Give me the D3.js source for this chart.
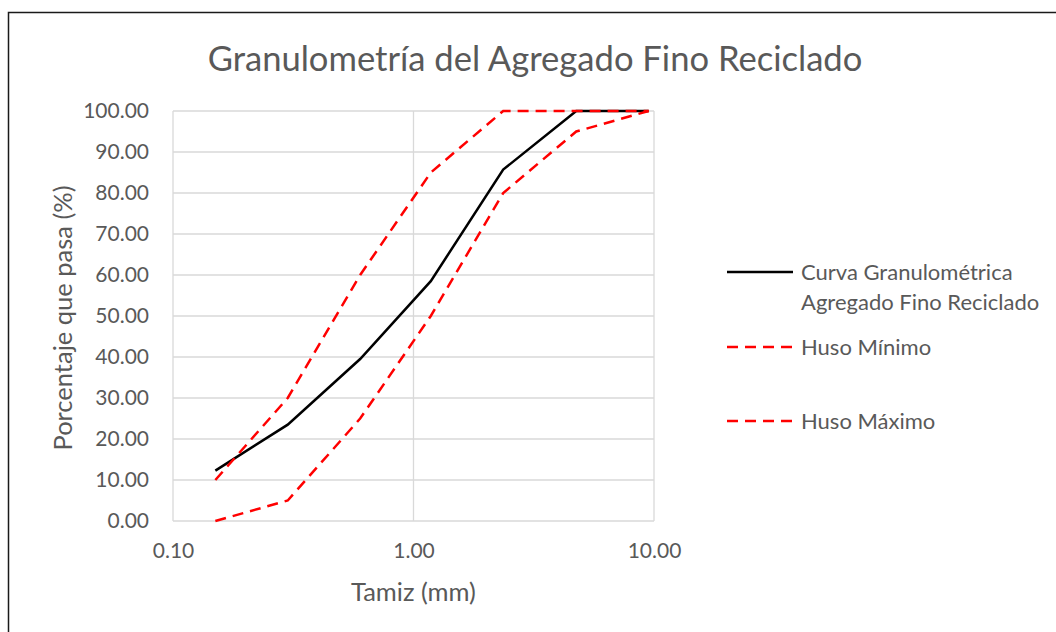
<!DOCTYPE html>
<html>
<head>
<meta charset="utf-8">
<script src="https://cdn.jsdelivr.net/npm/d3@7"></script>
<style>
  body { margin: 0; background: #fff; }
  text { font-family: Lato, "Open Sans", sans-serif; fill: #595959; }
</style>
</head>
<body>
<div id="chart"></div>
<script>
// sieve openings (mm)
var sieves = [0.15, 0.3, 0.6, 1.18, 2.36, 4.75, 9.5];
var curva = [12.3, 23.5, 39.5, 58.5, 85.7, 100, 100];
var husoMin = [0, 5, 25, 50, 80, 95, 100];
var husoMax = [10, 30, 60, 85, 100, 100, 100];
var xTicks = [0.1, 1, 10];
var yTicks = [0, 10, 20, 30, 40, 50, 60, 70, 80, 90, 100];

var W = 1056, H = 632;
var margin = {top: 111, right: 402, bottom: 111, left: 173};
var width = W - margin.left - margin.right;
var height = H - margin.top - margin.bottom;

var svg = d3.select("#chart").append("svg")
  .attr("width", W)
  .attr("height", H);

// outer chart border
svg.append("rect")
  .attr("x", 8.5).attr("y", 12.5)
  .attr("width", W + 20).attr("height", H + 20)
  .attr("fill", "none").attr("stroke", "#1a1a1a").attr("stroke-width", 1.5);

svg.append("text")
  .attr("x", 535).attr("y", 71)
  .attr("text-anchor", "middle")
  .attr("font-size", 34.6)
  .text("Granulometría del Agregado Fino Reciclado");

var g = svg.append("g")
  .attr("transform", "translate(" + margin.left + "," + margin.top + ")");

var x = d3.scaleLog().domain([0.1, 10]).range([0, width]);
var y = d3.scaleLinear().domain([0, 100]).range([height, 0]);

// gridlines
g.selectAll(".hgrid").data(yTicks).enter().append("line")
  .attr("x1", 0).attr("x2", width)
  .attr("y1", function(d) { return y(d); })
  .attr("y2", function(d) { return y(d); })
  .attr("stroke", "#d9d9d9").attr("stroke-width", 1.3);

g.selectAll(".vgrid").data(xTicks).enter().append("line")
  .attr("x1", function(d) { return x(d); })
  .attr("x2", function(d) { return x(d); })
  .attr("y1", 0).attr("y2", height)
  .attr("stroke", "#d9d9d9").attr("stroke-width", 1.3);

// axes
var yAxis = g.append("g")
  .call(d3.axisLeft(y).tickValues(yTicks).tickSize(0).tickPadding(24)
    .tickFormat(d3.format(".2f")));
yAxis.select(".domain").remove();
yAxis.selectAll("text").attr("font-size", 21).attr("fill", "#595959")
  .attr("font-family", "Lato, sans-serif");

var xAxis = g.append("g")
  .attr("transform", "translate(0," + height + ")")
  .call(d3.axisBottom(x).tickValues(xTicks).tickSize(0).tickPadding(22)
    .tickFormat(d3.format(".2f")));
xAxis.select(".domain").remove();
xAxis.selectAll("text").attr("font-size", 21).attr("fill", "#595959")
  .attr("font-family", "Lato, sans-serif");

// axis titles
svg.append("text")
  .attr("x", margin.left + width / 2).attr("y", 601)
  .attr("text-anchor", "middle").attr("font-size", 25.5)
  .text("Tamiz (mm)");

svg.append("text")
  .attr("transform", "translate(72," + (margin.top + height / 2 + 2) + ") rotate(-90)")
  .attr("text-anchor", "middle").attr("font-size", 25.5)
  .text("Porcentaje que pasa (%)");

var line = d3.line()
  .x(function(d) { return x(d[0]); })
  .y(function(d) { return y(d[1]); });

function pairs(vals) { return sieves.map(function(s, i) { return [s, vals[i]]; }); }

var series = [
  {name: ["Curva Granulométrica", "Agregado Fino Reciclado"], vals: curva, color: "#000", dash: null, ly: 272},
  {name: ["Huso Mínimo"], vals: husoMin, color: "#ff0000", dash: "11,7", ly: 347},
  {name: ["Huso Máximo"], vals: husoMax, color: "#ff0000", dash: "11,7", ly: 421}
];

// red dashes sit on top of the black curve
series.forEach(function(s) {
  g.append("path")
    .datum(pairs(s.vals))
    .attr("d", line)
    .attr("fill", "none")
    .attr("stroke", s.color)
    .attr("stroke-width", 2.5)
    .attr("stroke-dasharray", s.dash);
});

// legend
var leg = svg.append("g");
series.forEach(function(s) {
  leg.append("line")
    .attr("x1", 727).attr("x2", 793)
    .attr("y1", s.ly).attr("y2", s.ly)
    .attr("stroke", s.color).attr("stroke-width", 2.5)
    .attr("stroke-dasharray", s.dash ? "11,7" : null);
  s.name.forEach(function(t, i) {
    leg.append("text")
      .attr("x", 801).attr("y", s.ly + 8 + i * 30)
      .attr("font-size", 22)
      .text(t);
  });
});
</script>
</body>
</html>
